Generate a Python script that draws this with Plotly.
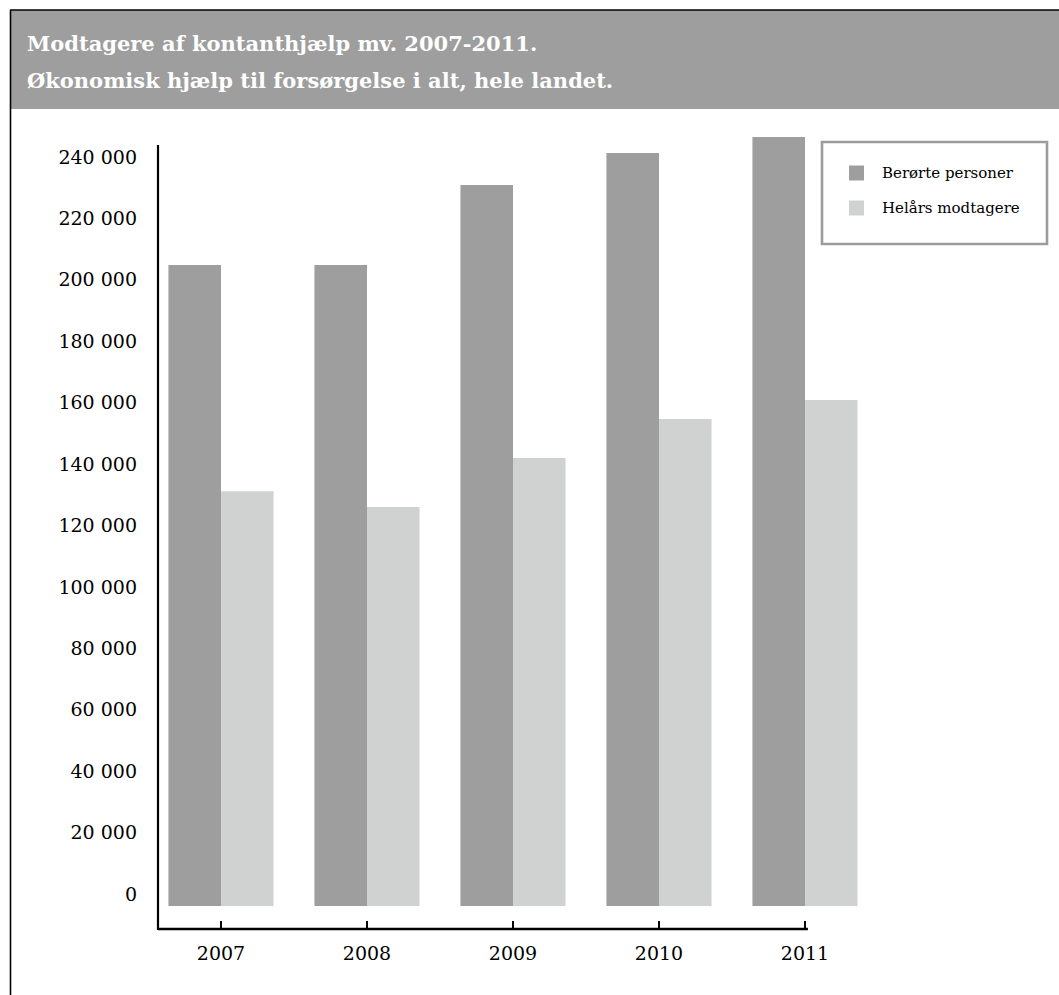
import plotly.graph_objects as go

# Data: recipients of cash benefits etc., whole country
years = ["2007", "2008", "2009", "2010", "2011"]
beroerte_personer = [208700, 208700, 234800, 245200, 250400]
helaars_modtagere = [135100, 129900, 145900, 158600, 164800]
y_ticks = [0, 20000, 40000, 60000, 80000, 100000, 120000,
           140000, 160000, 180000, 200000, 220000, 240000]

title_lines = ["Modtagere af kontanthjælp mv. 2007-2011.",
               "Økonomisk hjælp til forsørgelse i alt, hele landet."]
series_names = ["Berørte personer", "Helårs modtagere"]

DARK = "#9d9e9d"
LIGHT = "#d0d2d1"
FONT = "DejaVu Serif"

W, H = 1059, 995
L, R, T, B = 158, 878, 130, 929


def px(x):
    return (x - L) / (R - L)


def py(y):
    return (B - y) / (B - T)


fig = go.Figure()
fig.add_trace(go.Bar(x=years, y=beroerte_personer, name=series_names[0],
                     marker=dict(color=DARK, line=dict(width=0))))
fig.add_trace(go.Bar(x=years, y=helaars_modtagere, name=series_names[1],
                     marker=dict(color=LIGHT, line=dict(width=0))))

shapes = [
    # header band
    dict(type="rect", xref="paper", yref="paper", x0=px(10), x1=px(W + 5),
         y0=py(109), y1=py(10), fillcolor=DARK, line=dict(width=0), layer="below"),
    # outer frame (top and left)
    dict(type="line", xref="paper", yref="paper", x0=px(10), x1=px(W + 5),
         y0=py(10), y1=py(10), line=dict(color="black", width=1.6)),
    dict(type="line", xref="paper", yref="paper", x0=px(10.5), x1=px(10.5),
         y0=py(10), y1=py(H + 5), line=dict(color="black", width=1.6)),
    # y axis line
    dict(type="line", xref="paper", yref="paper", x0=px(158), x1=px(158),
         y0=py(145), y1=py(930), line=dict(color="black", width=2.2)),
    # x axis line, ending at the last category
    dict(type="line", xref="x", yref="paper", x0=-0.4315, x1=4.02,
         y0=py(929), y1=py(929), line=dict(color="black", width=2.6)),
    # legend box
    dict(type="rect", xref="paper", yref="paper", x0=px(822), x1=px(1047),
         y0=py(244), y1=py(142), fillcolor="white",
         line=dict(color="#9c9c9c", width=2.6), layer="above"),
]
annotations = []
for (name, color, yc) in [(series_names[0], DARK, 173), (series_names[1], LIGHT, 208)]:
    shapes.append(dict(type="rect", xref="paper", yref="paper",
                       x0=px(849), x1=px(864), y0=py(yc + 7.5), y1=py(yc - 7.5),
                       fillcolor=color, line=dict(width=0), layer="above"))
    annotations.append(dict(text=name, xref="paper", yref="paper", x=px(880), y=py(yc),
                            xanchor="left", yanchor="middle", showarrow=False,
                            font=dict(family=FONT, size=15, color="black")))

for text, yc in zip(title_lines, [44, 80]):
    annotations.append(dict(text="<b>%s</b>" % text, xref="paper", yref="paper",
                            x=px(25), y=py(yc), xanchor="left", yanchor="middle",
                            showarrow=False,
                            font=dict(family=FONT, size=21, color="white")))

fig.update_layout(
    width=W, height=H, autosize=False,
    margin=dict(l=L, r=W - R, t=T, b=H - B, pad=0),
    paper_bgcolor="white", plot_bgcolor="white",
    barmode="group", bargap=0.28, bargroupgap=0,
    showlegend=False,
    separators=", ",
    shapes=shapes, annotations=annotations,
    xaxis=dict(type="category", range=[-0.4315, 4.5], showline=False,
               showgrid=False, zeroline=False,
               ticks="inside", ticklen=8, tickwidth=2, tickcolor="black",
               tickfont=dict(family=FONT, size=19, color="black"),
               ticklabelstandoff=11),
    yaxis=dict(range=[-7490, 252700], showline=False, showgrid=False, zeroline=False,
               tickmode="array", tickvals=y_ticks, tickformat=",d",
               ticks="", ticklabelshift=-12, ticklabelstandoff=20,
               tickfont=dict(family=FONT, size=19, color="black")),
)

fig.write_html("out.html")
